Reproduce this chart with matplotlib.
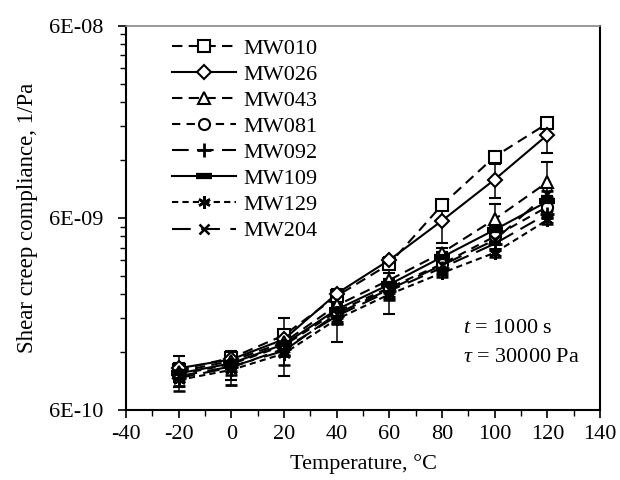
import matplotlib
matplotlib.use("Agg")
import matplotlib.pyplot as plt
import numpy as np
from matplotlib.ticker import FixedLocator, NullFormatter, FixedFormatter
from matplotlib.lines import Line2D

plt.rcParams['font.family'] = ['Liberation Serif', 'DejaVu Serif']
plt.rcParams['mathtext.fontset'] = 'custom'
plt.rcParams['mathtext.it'] = 'Liberation Serif:italic'
plt.rcParams['mathtext.rm'] = 'Liberation Serif'
plt.rcParams['axes.unicode_minus'] = False

temps = [-20, 0, 20, 40, 60, 80, 100, 120]
series_names = ["MW010", "MW026", "MW043", "MW081", "MW092", "MW109", "MW129", "MW204"]

# compliance values (x1e-9 1/Pa)
mw010 = [0.97, 1.12, 1.47, 2.35, 3.45, 7.0, 12.5, 18.6]
mw026 = [0.99, 1.10, 1.40, 2.42, 3.62, 5.8, 9.5, 16.2]
mw043 = [0.95, 1.08, 1.35, 2.10, 2.85, 3.95, 5.9, 9.2]
mw081 = [0.92, 1.04, 1.30, 1.95, 2.60, 3.45, 4.8, 6.85]
mw092 = [0.88, 1.00, 1.25, 1.85, 2.50, 3.30, 4.4, 6.3]
mw109 = [0.93, 1.05, 1.32, 2.00, 2.70, 3.75, 5.2, 7.3]
mw129 = [0.86, 0.97, 1.18, 1.78, 2.40, 3.10, 3.95, 5.85]
mw204 = [0.90, 1.01, 1.22, 1.90, 2.55, 3.40, 4.6, 8.0]

# error bars (x1e-9 1/Pa)
err010 = [0.18, 0.04, 0.05, 0.08, 0.10, 0.20, 0.30, 0.50]
err026 = [0.04, 0.04, 0.05, 0.08, 0.15, 1.36, 1.9, 3.2]
err043 = [0.10, 0.06, 0.45, 0.20, 0.25, 0.25, 1.2, 2.5]
err081 = [0.08, 0.18, 0.10, 0.60, 0.70, 0.20, 0.30, 0.40]
err092 = [0.08, 0.19, 0.10, 0.15, 0.20, 0.20, 0.25, 0.30]
err109 = [0.05, 0.05, 0.06, 0.10, 0.12, 0.15, 0.20, 0.30]
err129 = [0.11, 0.06, 0.15, 0.10, 0.15, 0.15, 0.20, 0.30]
err204 = [0.05, 0.05, 0.06, 0.10, 0.12, 0.15, 0.20, 0.30]

values = [mw010, mw026, mw043, mw081, mw092, mw109, mw129, mw204]
errors = [err010, err026, err043, err081, err092, err109, err129, err204]

styles = [
    dict(ls=(0, (5, 3)), marker='s', mfc='white', ms=8),
    dict(ls='-', marker='D', mfc='white', ms=7),
    dict(ls=(0, (5, 3)), marker='^', mfc='white', ms=8.5),
    dict(ls=(0, (4, 3)), marker='o', mfc='white', ms=8),
    dict(ls=(0, (8, 4)), marker='+', mfc='white', ms=10, mew=2.0),
    dict(ls='-', marker='_', ms=11, mew=4.5),
    dict(ls=(0, (3, 2)), marker=(6, 2, 0), ms=9, mew=1.8),
    dict(ls=(0, (9, 5)), marker='x', ms=7.5, mew=1.8),
]

fig = plt.figure(figsize=(6.2, 4.8), dpi=100)
ax = fig.add_axes([126/620, 1-410/480, 474/620, 384.3/480])

handles = []
for name, v, e, st in zip(series_names, values, errors, styles):
    y = np.array(v) * 1e-9
    ye = np.array(e) * 1e-9
    st = dict(st)
    mew = st.pop('mew', 1.5)
    ax.errorbar(temps, y, yerr=ye, color='black', lw=1.5, mec='black',
                mew=mew, capsize=4, elinewidth=1.1, capthick=1.1, **st)
    handles.append(Line2D([], [], color='black', lw=1.5, mec='black',
                          mew=mew, label=name, **st))

ax.set_yscale('log')
ax.set_ylim(6e-10, 6e-8)
ax.set_xlim(-40, 140)
ax.yaxis.set_major_locator(FixedLocator([6e-10, 6e-9, 6e-8]))
ax.yaxis.set_major_formatter(FixedFormatter(["6E-10", "6E-09", "6E-08"]))
minors = [6e-10 * k for k in range(2, 10)] + [6e-9 * k for k in range(2, 10)]
ax.yaxis.set_minor_locator(FixedLocator(minors))
ax.yaxis.set_minor_formatter(NullFormatter())
ax.set_xticks(np.arange(-40, 141, 20))
ax.set_xticks(np.arange(-30, 140, 20), minor=True)

ax.tick_params(axis='both', which='major', direction='out', length=6, width=1.2,
               labelsize=16, pad=5)
ax.tick_params(axis='y', which='major', pad=10)
ax.tick_params(axis='both', which='minor', direction='out', length=4, width=1.0)
ax.tick_params(top=False, right=False)

for s in ['left', 'bottom', 'right']:
    ax.spines[s].set_linewidth(1.5)
    ax.spines[s].set_color('black')
ax.spines['top'].set_color('#888888')
ax.spines['top'].set_linewidth(1.2)

ax.set_xlabel("Temperature, °C", fontsize=16, labelpad=7)
ax.set_ylabel("Shear creep compliance, 1/Pa", fontsize=16.5, labelpad=8)

ax.text(0.71, 0.20, r"$t$ = 1000 s", transform=ax.transAxes, fontsize=16)
ax.text(0.71, 0.125, r"$\tau$ = 30000 Pa", transform=ax.transAxes, fontsize=16)

leg = ax.legend(handles=handles, loc='upper left', bbox_to_anchor=(0.097, 0.968),
                frameon=False, fontsize=16, handlelength=2.9, handletextpad=0.3,
                labelspacing=0.25, borderpad=0, borderaxespad=0)

fig.savefig("out.png", dpi=100)
